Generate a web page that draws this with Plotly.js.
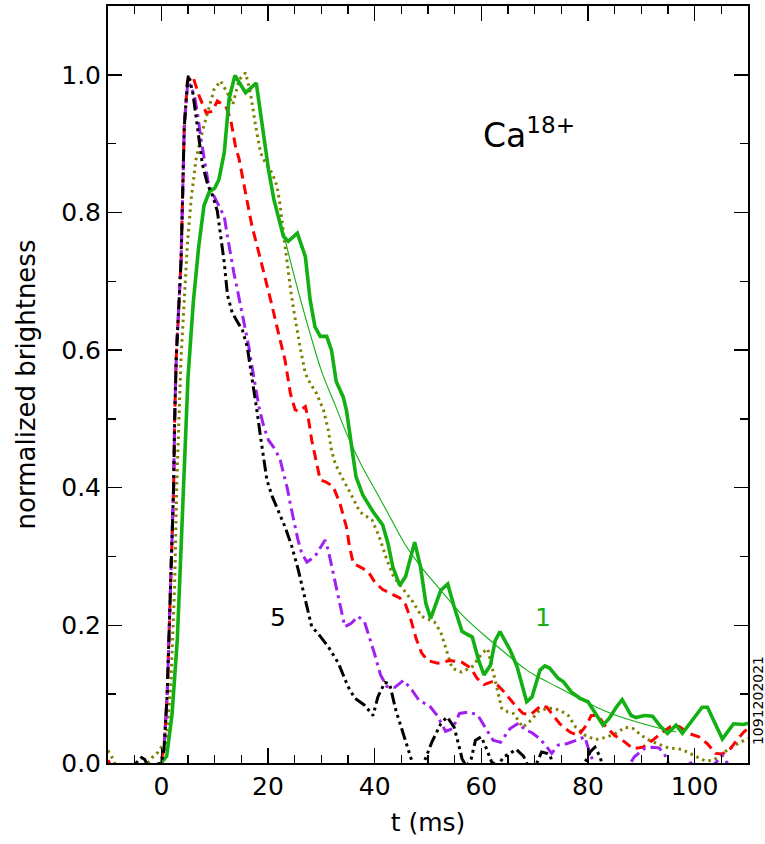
<!DOCTYPE html>
<html>
<head>
<meta charset="utf-8">
<script src="https://cdn.plot.ly/plotly-3.0.1.min.js"></script>
<style>html,body{margin:0;padding:0;background:#fff;}#chart{width:765px;height:844px;}</style>
</head>
<body>
<div id="chart"></div>
<script>
// ---- data ----
const tGreen = [-10,-6,-2,0,1,2,3,4,5,6,7,8,9,10,10.8,11.8,12.7,13.8,15.8,17.8,19.2,20.1,21.1,22.9,23.8,25.5,27,27.9,28.8,29.8,31,31.9,32.8,34.1,34.7,35.6,36.5,37.8,39.7,41.5,42.5,43.4,44.7,45.8,46.8,47.5,48.6,49.6,50.5,52.4,53.7,54.9,56.4,58.3,59.5,60.5,61.7,62.6,63.5,65.4,66.7,68.5,69.5,71,71.9,72.8,74.4,75.4,76.9,78.5,80,81.3,82.8,84,85.3,86.4,88.1,89,90.6,92.1,93.4,94.9,96.5,97.7,99.5,101.4,102.4,105.2,107.3,109.2,110];
const yGreen = [-0.02,-0.02,-0.01,0.0,0.01,0.07,0.18,0.36,0.56,0.67,0.75,0.81,0.83,0.835,0.848,0.887,0.965,0.999,0.974,0.988,0.906,0.862,0.819,0.765,0.758,0.770,0.736,0.673,0.634,0.620,0.620,0.600,0.554,0.532,0.513,0.465,0.416,0.389,0.365,0.346,0.319,0.285,0.258,0.271,0.300,0.321,0.285,0.232,0.210,0.251,0.260,0.227,0.191,0.183,0.149,0.128,0.142,0.178,0.191,0.164,0.14,0.089,0.096,0.135,0.141,0.138,0.123,0.118,0.103,0.094,0.089,0.074,0.055,0.065,0.081,0.092,0.069,0.066,0.069,0.068,0.055,0.043,0.055,0.043,0.062,0.081,0.081,0.035,0.057,0.056,0.058];

const tOlive = [-10,-9.3,-8.5,-6,-3,-1.6,-0.6,0,0.9,1.8,2.5,2.9,3.7,4.9,5.6,6.5,7.7,8.7,9.9,11.1,12.3,13.4,14.6,15.8,16.7,17.7,18.6,19.5,20.8,21.7,22.3,22.9,23.6,24.2,24.8,25.4,26.0,27.0,27.9,29.1,30.4,31.3,31.9,32.6,33.8,35.6,37.2,39.5,40.8,42.3,43.6,45.3,47.1,48.8,51.2,52.4,53.4,54.5,56.3,58.3,60.2,61.2,62.5,63.8,65,66,67.8,69.3,70.7,72.6,74.7,76.3,77.7,79.5,81.4,83.2,85,87,88.5,90,91.5,93,95,97.5,100,102,103.5,105.6,107.6,109.4,110];
const yOlive = [0.018,0.009,-0.005,-0.01,-0.005,0.009,0.016,0.023,0.03,0.116,0.26,0.407,0.59,0.756,0.82,0.877,0.918,0.945,0.979,0.991,0.975,0.957,0.993,1.003,0.974,0.925,0.887,0.872,0.857,0.838,0.809,0.770,0.722,0.69,0.659,0.629,0.605,0.566,0.552,0.537,0.513,0.484,0.455,0.435,0.416,0.39,0.365,0.353,0.33,0.295,0.27,0.253,0.235,0.213,0.205,0.19,0.164,0.138,0.132,0.14,0.16,0.166,0.123,0.08,0.074,0.072,0.052,0.062,0.075,0.08,0.077,0.069,0.052,0.04,0.034,0.037,0.042,0.052,0.05,0.04,0.033,0.028,0.022,0.02,0.01,0.003,0.004,0.016,0.026,0.033,0.036];

const tRed = [-10,-9,-5,-1,0,0.5,1.1,1.5,1.8,2.3,2.5,2.8,3.7,4.0,4.3,4.9,5.9,7.1,8.4,9.6,10.5,12.1,13,13.9,14.6,15.8,17,18.3,19.5,20.8,22.1,23.2,24.2,25.1,25.8,27,27.6,28.2,29.0,29.8,30.7,32.2,33.5,34.7,35.3,36,37.5,38.8,40,41.5,43.1,44.7,45.8,46.8,47.8,48.8,49.9,51.8,54.1,56.4,58,59.2,60.5,62.3,64.2,66.1,67.8,69.2,71.3,72.3,73.5,74.7,76.6,78.2,79.7,80.6,81.9,83.1,85,86.5,88.4,90.3,92.1,94,95.5,97.1,98.9,100.8,102.4,103.9,105.2,106.7,107.9,109.2,110];
const yRed = [0.004,-0.01,-0.01,-0.005,0.006,0.02,0.1,0.2,0.3,0.4,0.5,0.59,0.73,0.83,0.925,0.99,0.998,0.969,0.945,0.947,0.962,0.954,0.935,0.896,0.877,0.828,0.78,0.741,0.705,0.663,0.62,0.585,0.537,0.513,0.511,0.518,0.499,0.469,0.44,0.411,0.409,0.402,0.377,0.343,0.314,0.29,0.284,0.278,0.263,0.252,0.246,0.24,0.23,0.208,0.18,0.16,0.149,0.145,0.149,0.146,0.138,0.123,0.114,0.119,0.104,0.086,0.072,0.07,0.084,0.081,0.069,0.057,0.045,0.04,0.055,0.069,0.069,0.055,0.04,0.033,0.021,0.023,0.033,0.045,0.053,0.053,0.043,0.038,0.028,0.014,0.013,0.021,0.033,0.045,0.05];

const tPurple = [-10,-1,0,0.5,1.1,1.5,1.8,2.3,2.5,2.8,3.7,4.0,4.3,4.9,5.4,6.2,6.8,7.4,8.0,8.8,9.6,10.8,11.8,12.4,13,13.6,14.2,14.9,15.8,16.4,17,17.7,18.3,19.2,20.1,21.4,22.3,22.9,23.6,24.3,25.0,25.6,26.3,27.3,28.8,30.7,31.3,32.2,33.2,34.4,35.6,36.9,38.1,38.8,40,41.1,42.3,43.8,45.4,47.0,48.4,50.2,51.8,53.3,54.6,55.9,57.6,59.3,60.8,62.2,63.6,65.4,67.0,68.2,69.5,71,72.3,73.2,74.4,76,77.8,79.4,80,80.6,81.5,86,87.8,88.7,90.6,92.1,93.3,94.3,95.3,97,99.3,100.5,103,103.9,105.2,106.5,110];
const yPurple = [-0.01,-0.01,0.0,0.02,0.1,0.2,0.3,0.4,0.5,0.59,0.73,0.83,0.925,0.983,0.985,0.97,0.943,0.908,0.88,0.843,0.828,0.809,0.794,0.765,0.736,0.712,0.69,0.662,0.63,0.605,0.576,0.547,0.518,0.489,0.469,0.455,0.44,0.421,0.4,0.372,0.345,0.325,0.305,0.292,0.3,0.324,0.309,0.276,0.237,0.198,0.203,0.213,0.205,0.188,0.158,0.128,0.111,0.11,0.12,0.106,0.09,0.084,0.068,0.046,0.05,0.072,0.074,0.07,0.05,0.033,0.03,0.05,0.058,0.048,0.044,0.035,0.023,0.014,0.026,0.028,0.033,0.038,0.023,0.009,-0.01,-0.02,-0.002,0.009,0.021,0.023,0.022,0.014,-0.005,-0.01,0.0,-0.01,-0.005,0.0,0.011,-0.005,-0.02];

const tBlack = [-10,-5,-4.4,-3.7,-3.1,-2.5,0,0.5,1.1,1.5,1.8,2.3,2.5,2.8,3.7,4.0,4.3,4.9,5.1,5.9,6.5,7.1,7.7,8.7,9.6,10.5,11.1,11.8,12.4,13.3,14.2,15.2,16.1,16.7,17.3,18,18.6,19.2,19.8,20.8,22,23.2,24.5,25.7,27,28.2,29.4,31.3,33.2,35,36.3,38.1,39.7,40.6,41.9,42.8,44,45.3,46.5,47.5,48.5,49.5,50.7,52.4,53.6,54.9,55.8,56.4,57.2,58.1,58.9,60.0,61.0,61.9,63,64.2,65.4,66.5,67.9,68.8,69.8,70.4,71.3,72.3,72.9,73.7,79,79.5,80.4,81.3,82.2,83,110];
const yBlack = [-0.01,-0.005,0.004,0.008,0.005,-0.005,0.0,0.02,0.1,0.2,0.3,0.4,0.5,0.59,0.73,0.83,0.925,0.99,1.0,0.974,0.94,0.9,0.87,0.84,0.825,0.802,0.768,0.727,0.68,0.654,0.642,0.629,0.605,0.576,0.542,0.508,0.474,0.44,0.411,0.387,0.365,0.343,0.314,0.28,0.237,0.198,0.188,0.169,0.145,0.111,0.094,0.084,0.069,0.096,0.117,0.115,0.076,0.043,0.012,-0.01,-0.01,0.006,0.03,0.057,0.067,0.052,0.025,0.006,-0.005,0.006,0.033,0.038,0.02,0.002,-0.005,0.009,0.014,0.02,0.01,-0.005,-0.005,0.0,0.016,0.014,0.011,-0.01,-0.01,0.002,0.016,0.023,0.01,-0.01,-0.02];

const tFit = [22.9,25.1,27.6,30.1,32.6,35,37.5,40,42.5,45.6,48.7,52.4,56.8,61.7,65.4,68.5,70.4,74.1,77.8,81.6,85.3,89,92.7,96.5];
const yFit = [0.770,0.702,0.632,0.568,0.52,0.474,0.433,0.398,0.363,0.319,0.285,0.251,0.212,0.178,0.154,0.135,0.126,0.111,0.096,0.081,0.069,0.06,0.052,0.045];

const xTickVals = [0,20,40,60,80,100];
const yTickVals = [0.0,0.2,0.4,0.6,0.8,1.0];
const labelIon = 'Ca<sup>18+</sup>';
const labelFirst = '1';
const labelLast = '5';
const shotId = '1091202021';
const xTitle = 't (ms)';
const yTitle = 'normalized brightness';

// ---- drawing ----
const FONT = 'DejaVu Sans, Arial, sans-serif';
function tr(x, y, color, width, dash, shape) {
  return {x: x, y: y, type: 'scatter', mode: 'lines', hoverinfo: 'skip',
          line: {color: color, width: width, dash: dash, shape: shape || 'linear'}};
}
const data = [
  tr(tFit, yFit, '#12b012', 1.1, 'solid', 'spline'),
  tr(tOlive, yOlive, '#808000', 3, '2.5px,4px'),
  tr(tRed, yRed, '#ff0000', 3, '10px,6px'),
  tr(tPurple, yPurple, '#a020f0', 3, '12px,5px,3px,5px'),
  tr(tGreen, yGreen, '#12b012', 3.6, 'solid'),
  tr(tBlack, yBlack, '#000000', 3, '12px,4px,3px,4px,3px,4px,3px,4px')
];

const axisCommon = {
  showgrid: false, zeroline: false, showline: true, linecolor: '#000', linewidth: 2,
  mirror: 'ticks', ticks: 'inside', tickcolor: '#000', tickwidth: 1.5,
  tickfont: {family: FONT, size: 25, color: '#000'}
};
const layout = {
  width: 765, height: 844,
  margin: {l: 108, r: 17, t: 6, b: 81},
  paper_bgcolor: '#fff', plot_bgcolor: '#fff',
  showlegend: false,
  xaxis: Object.assign({}, axisCommon, {
    range: [-10, 110], tickmode: 'array', tickvals: xTickVals, ticklen: 15,
    minor: {dtick: 5, tick0: 0, ticks: 'inside', ticklen: 8, tickwidth: 1.5, tickcolor: '#000', showgrid: false},
    title: {text: xTitle, font: {family: FONT, size: 25, color: '#000'}, standoff: 13}
  }),
  yaxis: Object.assign({}, axisCommon, {
    range: [0, 1.1], tickmode: 'array', tickvals: yTickVals, tickformat: '.1f', ticklen: 14,
    minor: {dtick: 0.1, tick0: 0, ticks: 'inside', ticklen: 8, tickwidth: 1.5, tickcolor: '#000', showgrid: false},
    title: {text: yTitle, font: {family: FONT, size: 26, color: '#000'}, standoff: 18}
  }),
  annotations: [
    {x: 60, y: 0.915, xref: 'x', yref: 'y', text: labelIon, showarrow: false, xanchor: 'left', yanchor: 'middle',
     font: {family: FONT, size: 33, color: '#000'}},
    {x: 21.8, y: 0.212, xref: 'x', yref: 'y', text: labelLast, showarrow: false,
     font: {family: FONT, size: 25, color: '#000'}},
    {x: 71.5, y: 0.212, xref: 'x', yref: 'y', text: labelFirst, showarrow: false,
     font: {family: FONT, size: 25, color: '#12b012'}},
    {x: 1.0, y: 0.09, xref: 'paper', yref: 'y', text: shotId, showarrow: false, textangle: -90,
     xanchor: 'left', xshift: 1, borderpad: 0,
     font: {family: FONT, size: 14, color: '#000'}}
  ]
};
Plotly.newPlot('chart', data, layout, {staticPlot: true, displayModeBar: false});
</script>
</body>
</html>
